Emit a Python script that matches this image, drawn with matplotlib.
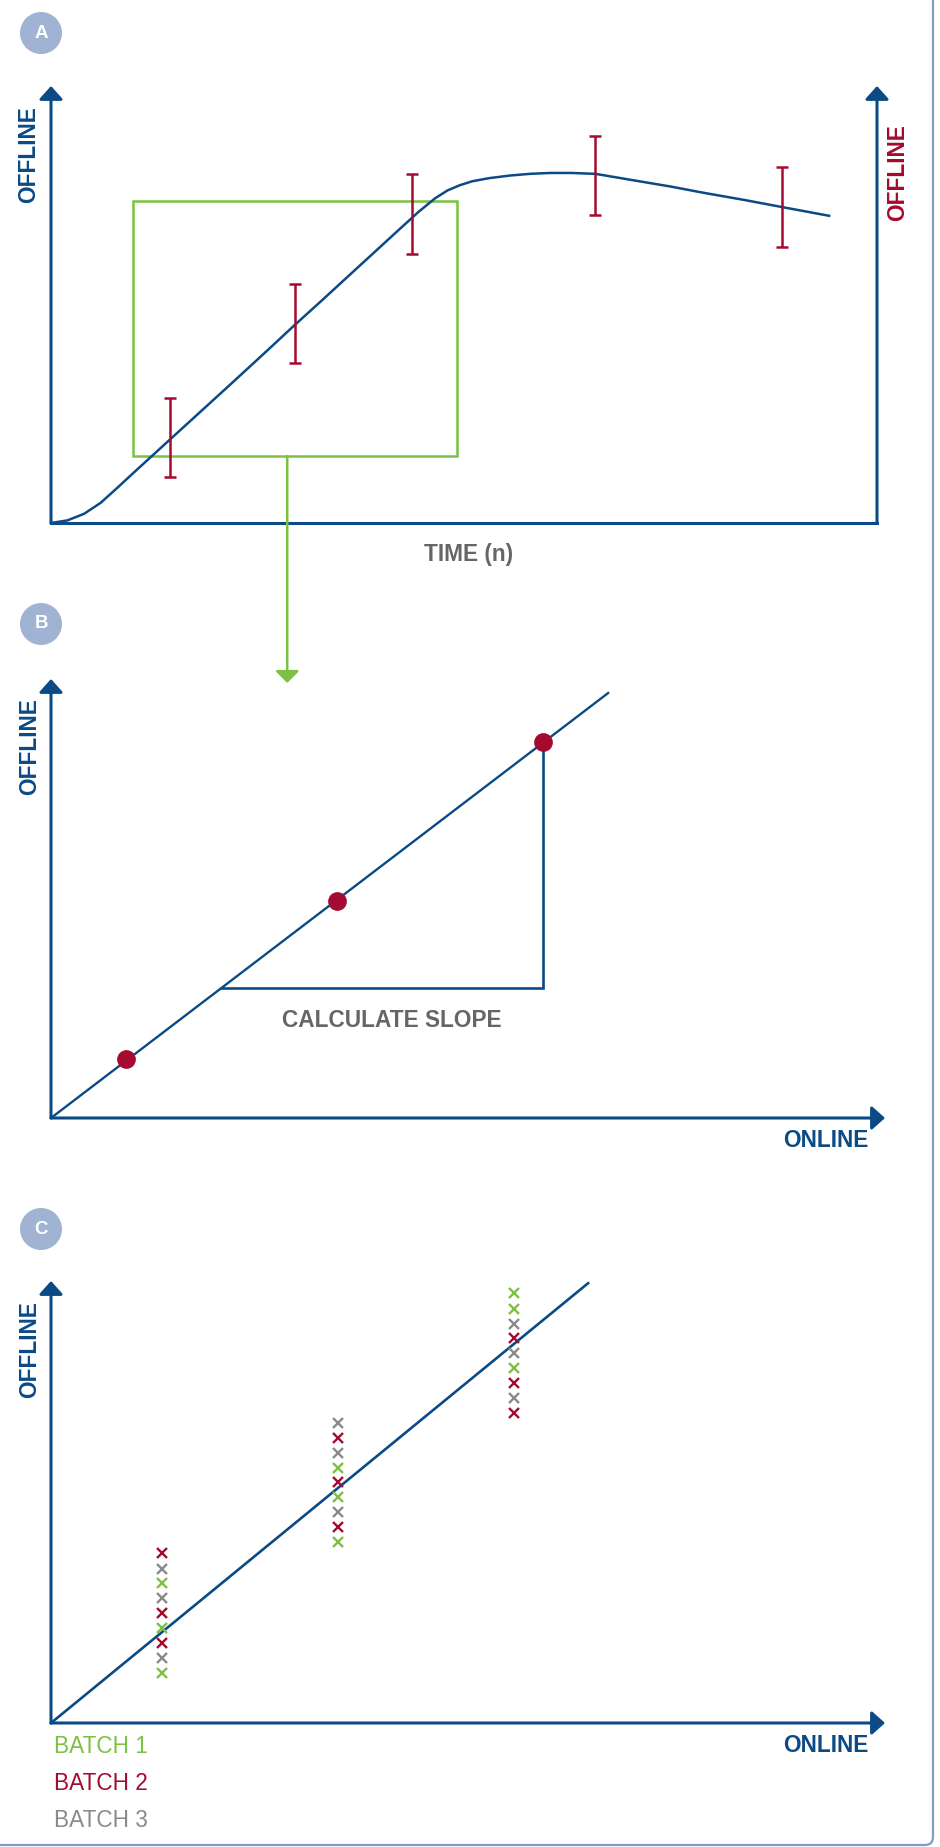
import matplotlib
matplotlib.use('Agg')
import matplotlib.pyplot as plt
from matplotlib.patches import Circle, FancyBboxPatch, Rectangle

plt.rcParams['font.family'] = ['Liberation Sans', 'DejaVu Sans']

BLUE = '#0B4A85'
RED = '#A50A30'
GREEN = '#7CC142'
GRAY_TXT = '#666666'
GRAY_X = '#8A8A8A'
BADGE = '#A0B3D3'
FRAME = '#819CC9'

# panel A: offline reference vs time
curve_t = [0, 0.2, 0.4, 0.6, 0.8, 1.0, 1.22, 1.44, 1.8, 2.2, 2.62, 2.95, 3.26, 3.6, 3.9,
           4.2, 4.45, 4.65, 4.8, 4.95, 5.1, 5.3, 5.55, 5.8, 6.04, 6.3, 6.59, 7.09, 7.5,
           7.89, 8.4, 8.85, 9.42]
curve_y = [0, 0.6, 2.1, 4.6, 8.0, 11.5, 15.3, 19.1, 25.3, 32.2, 39.5, 45.3, 50.6, 56.5, 61.7,
           66.9, 71.2, 74.3, 76.1, 77.3, 78.2, 78.9, 79.5, 79.9, 80.1, 80.1, 79.9, 78.3, 77.0,
           75.6, 73.9, 72.3, 70.3]
sample_t = [1.44, 2.95, 4.37, 6.59, 8.85]
sample_y = [19.6, 45.7, 70.7, 79.5, 72.3]
sample_err = [9.1, 9.1, 9.1, 9.1, 9.1]
zoom_box_t = [0.99, 4.92]
zoom_box_y = [15.3, 73.7]
zoom_arrow_t = 2.86
zoom_arrow_y = [15.3, -36.6]

# panel B: slope from three points
pts_x = [9.0, 34.3, 59.0]
pts_y = [13.4, 49.4, 85.6]
fit_b_x = [0, 66.8]
fit_b_y = [0, 96.8]
slope_x = [20.4, 59.0, 59.0]
slope_y = [29.6, 29.6, 85.6]

# panel C: three batches
fit_c_x = [0, 64.4]
fit_c_y = [0, 99.5]
batch_names = ['BATCH 1', 'BATCH 2', 'BATCH 3']
batch_colors = [GREEN, RED, GRAY_X]
batch_x = [
    [13.3, 13.3, 13.3, 34.4, 34.4, 34.4, 55.5, 55.5, 55.5],
    [13.3, 13.3, 13.3, 34.4, 34.4, 34.4, 55.5, 55.5, 55.5],
    [13.3, 13.3, 13.3, 34.4, 34.4, 34.4, 55.5, 55.5, 55.5],
]
batch_y = [
    [31.7, 21.5, 11.3, 57.7, 51.1, 41.0, 97.3, 93.7, 80.3],
    [38.5, 24.9, 18.1, 64.5, 54.5, 44.3, 87.1, 76.9, 70.1],
    [34.8, 28.3, 14.7, 67.9, 61.1, 47.7, 90.3, 83.7, 73.5],
]

W, H = 940, 1847
fig = plt.figure(figsize=(W / 100, H / 100), dpi=100)


def px_axes(x0, x1, y_bottom, y_top):
    return fig.add_axes([x0 / W, (H - y_bottom) / H, (x1 - x0) / W, (y_bottom - y_top) / H])


def arrow(ax, start, end, color, lw=2.2, hl=0.8, hw=0.72):
    ax.annotate('', xy=end, xytext=start, annotation_clip=False,
                arrowprops=dict(arrowstyle='-|>,head_length=%g,head_width=%g' % (hl, hw),
                                color=color, lw=lw, shrinkA=0, shrinkB=0,
                                mutation_scale=10))


def clean(ax, xmax, ymax):
    ax.set_xlim(0, xmax)
    ax.set_ylim(0, ymax)
    ax.axis('off')


def badge(letter, cx, cy):
    fig.add_artist(Circle((cx / 100, (H - cy) / 100), 0.21, transform=fig.dpi_scale_trans,
                          facecolor=BADGE, edgecolor='none'))
    fig.text(cx / W, (H - cy) / H, letter, color='white', fontsize=13.5,
             fontweight='bold', ha='center', va='center')


# ---- A ----
ax = px_axes(51, 877, 523, 86)
clean(ax, 10, 100)
ax.plot([0, 10], [0, 0], color=BLUE, lw=2.2, solid_capstyle='projecting', clip_on=False)
arrow(ax, (0, 0), (0, 100), BLUE)
arrow(ax, (10, 0), (10, 100), BLUE)
ax.plot(curve_t, curve_y, color=BLUE, lw=1.8, solid_joinstyle='round', clip_on=False)
ax.errorbar(sample_t, sample_y, yerr=sample_err, fmt='none', ecolor=RED,
            elinewidth=1.8, capsize=4.5, capthick=1.8)
ax.add_patch(Rectangle((zoom_box_t[0], zoom_box_y[0]), zoom_box_t[1] - zoom_box_t[0],
                       zoom_box_y[1] - zoom_box_y[0], fill=False, edgecolor=GREEN, lw=1.8))
arrow(ax, (zoom_arrow_t, zoom_arrow_y[0]), (zoom_arrow_t, zoom_arrow_y[1]), GREEN,
      lw=1.8, hl=0.72, hw=0.72)
ax.text(-0.27, 84.2, 'OFFLINE', color=BLUE, fontsize=16.3, fontweight='bold',
        rotation=90, ha='center', va='center')
ax.text(10.25, 80.1, 'OFFLINE', color=RED, fontsize=16.3, fontweight='bold',
        rotation=90, ha='center', va='center')
ax.text(5.06, -7.3, 'TIME (n)', color=GRAY_TXT, fontsize=16.3, fontweight='bold',
        ha='center', va='center')
badge('A', 41, 33)

# ---- B ----
ax = px_axes(51, 885, 1118, 679)
clean(ax, 100, 100)
arrow(ax, (0, 0), (0, 100), BLUE)
arrow(ax, (0, 0), (100, 0), BLUE)
ax.plot(fit_b_x, fit_b_y, color=BLUE, lw=1.7, clip_on=False)
ax.plot(slope_x, slope_y, color=BLUE, lw=1.9, solid_joinstyle='miter')
ax.plot(pts_x, pts_y, 'o', color=RED, markersize=13.5, markeredgewidth=0, zorder=5)
ax.text(40.9, 22.1, 'CALCULATE SLOPE', color=GRAY_TXT, fontsize=16.3, fontweight='bold',
        ha='center', va='center')
ax.text(-2.6, 84.7, 'OFFLINE', color=BLUE, fontsize=16.3, fontweight='bold',
        rotation=90, ha='center', va='center')
ax.text(98.0, -5.2, 'ONLINE', color=BLUE, fontsize=16.3, fontweight='bold',
        ha='right', va='center')
badge('B', 41, 624)

# ---- C ----
ax = px_axes(51, 885, 1723, 1281)
clean(ax, 100, 100)
arrow(ax, (0, 0), (0, 100), BLUE)
arrow(ax, (0, 0), (100, 0), BLUE)
ax.plot(fit_c_x, fit_c_y, color=BLUE, lw=1.9, clip_on=False)
for bx, by, c in zip(batch_x, batch_y, batch_colors):
    ax.plot(bx, by, 'x', color=c, markersize=6.5, markeredgewidth=1.7, zorder=5)
ax.text(-2.6, 84.6, 'OFFLINE', color=BLUE, fontsize=16.3, fontweight='bold',
        rotation=90, ha='center', va='center')
ax.text(98.0, -5.2, 'ONLINE', color=BLUE, fontsize=16.3, fontweight='bold',
        ha='right', va='center')
for i, (name, c) in enumerate(zip(batch_names, batch_colors)):
    ax.text(0.36, -5.4 - 8.3 * i, name, color=c, fontsize=16.3,
            ha='left', va='center')
badge('C', 41, 1229)

# panel frame, right edge with rounded bottom corner
fig.add_artist(FancyBboxPatch((-1, 0.02), 10.33, 25, transform=fig.dpi_scale_trans,
                              boxstyle='round,pad=0,rounding_size=0.08',
                              fill=False, edgecolor=FRAME, lw=1.6))

fig.savefig('out.png', dpi=100, facecolor='white')
